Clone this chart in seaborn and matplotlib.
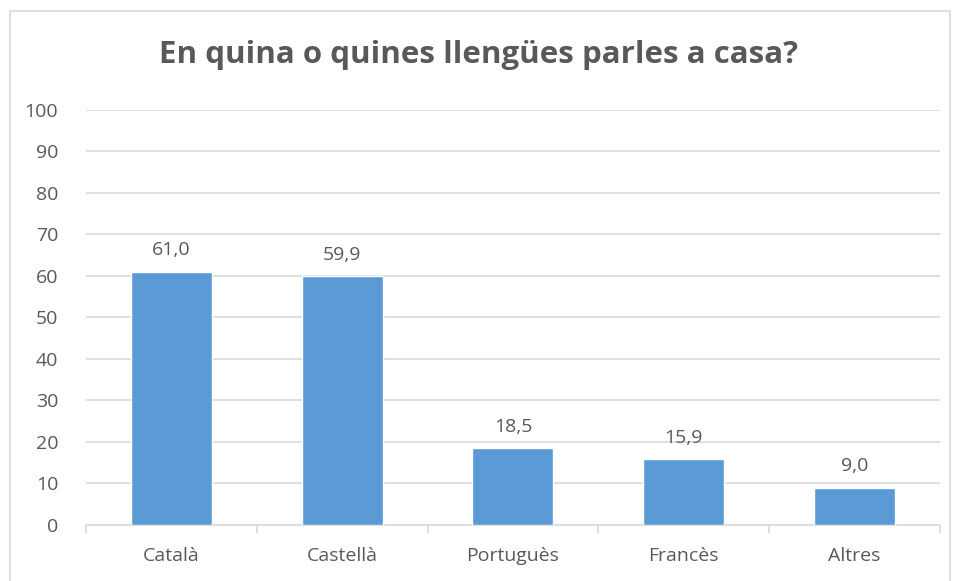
import matplotlib
matplotlib.use("Agg")
import matplotlib.pyplot as plt
import seaborn as sns
import pandas as pd
from matplotlib.patches import Rectangle

categories = ["Català", "Castellà", "Portuguès", "Francès", "Altres"]
values = [61.0, 59.9, 18.5, 15.9, 9.0]
yticks = [0, 10, 20, 30, 40, 50, 60, 70, 80, 90, 100]

df = pd.DataFrame({"llengua": categories, "pct": values})

sns.set_style("white")
plt.rcParams["font.family"] = ["Open Sans", "DejaVu Sans"]
text_color = "#595959"
grid_color = "#D9D9D9"

fig = plt.figure(figsize=(9.57, 5.81), dpi=100)
ax = fig.add_axes([0.0899, 0.0964, 0.8921, 0.7143])

sns.barplot(data=df, x="llengua", y="pct", color="#5B9BD5", width=0.475,
            saturation=1, ax=ax, zorder=3)

ax.set_ylim(0, 100)
ax.set_xlim(-0.5, len(categories) - 0.5)
ax.set_yticks(yticks)
ax.yaxis.grid(True, color=grid_color, linewidth=1.2, zorder=0)
ax.set_axisbelow(True)
for side in ["top", "right", "left"]:
    ax.spines[side].set_visible(False)
ax.spines["bottom"].set_color(grid_color)
ax.spines["bottom"].set_linewidth(1.2)

ax.tick_params(axis="y", length=0, labelsize=14, labelcolor=text_color, pad=20)
ax.tick_params(axis="x", length=0, labelsize=14, labelcolor=text_color, pad=16)
# category boundary tick marks
ax.set_xticks([i - 0.5 for i in range(len(categories) + 1)], minor=True)
ax.tick_params(axis="x", which="minor", bottom=True, length=6, color=grid_color, width=1.2)
ax.set_xlabel("")
ax.set_ylabel("")

for i, v in enumerate(values):
    ax.text(i, v + 3, f"{v:.1f}".replace(".", ","), ha="center", va="bottom",
            fontsize=14, color=text_color)

fig.text(0.5, 0.905, "En quina o quines llengües parles a casa?", ha="center",
         va="center", fontsize=22.5, fontweight="bold", color=text_color)

fig.patches.append(Rectangle((0.0104, -0.01), 0.982, 0.991, transform=fig.transFigure,
                             fill=False, edgecolor=grid_color, linewidth=1.2))

fig.savefig("out.png", dpi=100)
